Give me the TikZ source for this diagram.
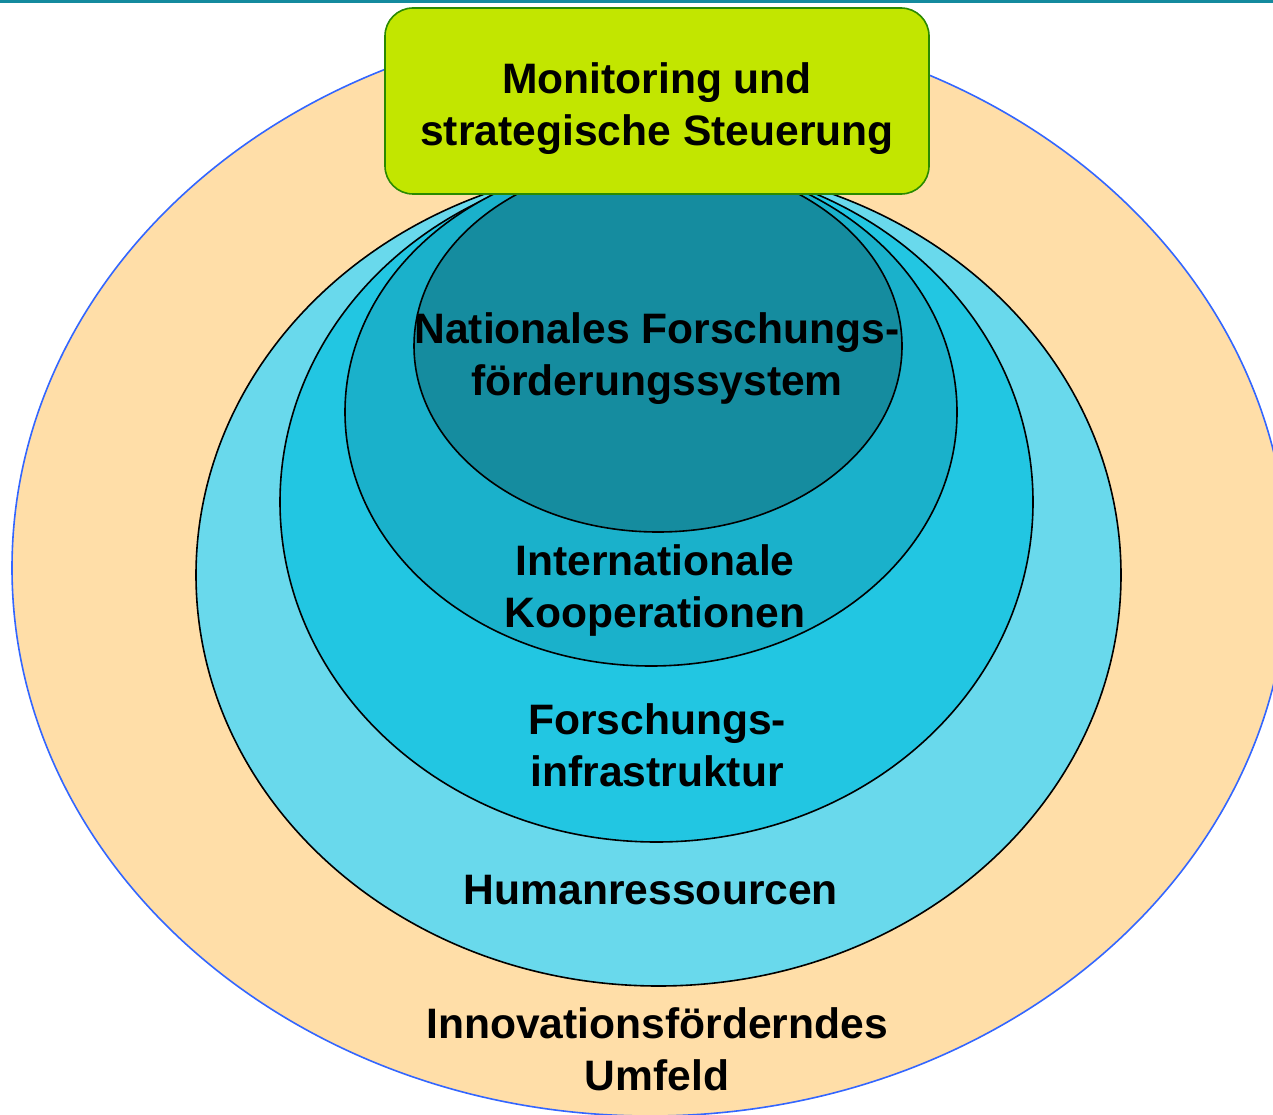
\documentclass[tikz,border=0pt]{standalone}
\usepackage{fontspec}
\setmainfont{Liberation Sans}
\definecolor{peach}{HTML}{FFDEA8}
\definecolor{outline}{HTML}{3366FF}
\definecolor{ringA}{HTML}{69D9EC}
\definecolor{ringB}{HTML}{22C6E2}
\definecolor{ringC}{HTML}{1AB1CB}
\definecolor{ringD}{HTML}{158C9F}
\definecolor{lime}{HTML}{C2E600}
\definecolor{limeborder}{HTML}{2A8A00}
\definecolor{topline}{HTML}{148A9E}
\begin{document}
\begin{tikzpicture}[x=1pt,y=-1pt,
  lbl/.style={font=\fontsize{42.6}{52}\selectfont\bfseries, align=center, text=black, inner sep=0pt},
  ring/.style={draw=black, line width=1.6pt}]
\useasboundingbox (0,0) rectangle (1273,1115);
\clip (0,0) rectangle (1273,1115);
\fill[white] (0,0) rectangle (1273,1115);
\fill[topline] (0,0) rectangle (1273,3);
% outer environment
\filldraw[fill=peach, draw=outline, line width=1.6pt] (650,568) ellipse [x radius=638, y radius=548];
% rings
\filldraw[ring, fill=ringA] (658.5,575) ellipse [x radius=462.5, y radius=411];
\filldraw[ring, fill=ringB] (656.5,502) ellipse [x radius=376.5, y radius=340];
\filldraw[ring, fill=ringC] (651,412) ellipse [x radius=306, y radius=254];
\filldraw[ring, fill=ringD] (658,346) ellipse [x radius=244, y radius=186];
% labels
\node[lbl] (nat) at (657,359) {Nationales Forschungs-\\förderungssystem};
\node[lbl] (int) at (655,590) {Internationale\\Kooperationen};
\node[lbl] (inf) at (657,745) {Forschungs-\\infrastruktur};
\node[lbl] (hum) at (651,890) {Humanressourcen};
\node[lbl] (inn) at (657,1049) {Innovationsförderndes\\Umfeld};
% monitoring box
\node[draw=limeborder, fill=lime, line width=1.6pt, rounded corners=28pt,
      minimum width=544pt, minimum height=186pt, inner sep=0pt] (box) at (657,101) {};
\node[lbl] (mon) at (box.center) [yshift=-8pt] {Monitoring und\\strategische Steuerung};
\end{tikzpicture}
\end{document}
